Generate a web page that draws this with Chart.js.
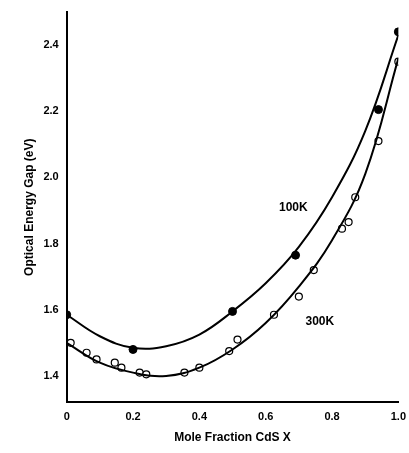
<!DOCTYPE html><html><head><script src="https://cdn.jsdelivr.net/npm/chart.js"></script>
<style>body{margin:0;background:#fff}#w{width:409px;height:453px}</style></head><body><div id="w"><canvas id="c"></canvas></div>
<script>
const x100=[0,0.2,0.5,0.69,0.94,1.0];
const y100=[1.585,1.48,1.595,1.765,2.205,2.44];
const x300=[0.012,0.06,0.09,0.145,0.165,0.22,0.24,0.355,0.40,0.49,0.515,0.625,0.70,0.745,0.83,0.85,0.87,0.94,1.0];
const y300=[1.50,1.47,1.45,1.44,1.425,1.41,1.405,1.41,1.425,1.475,1.51,1.585,1.64,1.72,1.845,1.865,1.94,2.11,2.35];
const cx=[0,0.1,0.2,0.3,0.4,0.5,0.6,0.7,0.8,0.9,1.0];
const c100=[1.585,1.52,1.485,1.49,1.525,1.595,1.68,1.79,1.94,2.14,2.43];
const c300=[1.50,1.44,1.41,1.40,1.425,1.48,1.56,1.67,1.81,2.01,2.36];
const xt=[0,0.2,0.4,0.6,0.8,1.0];
const yt=[1.4,1.6,1.8,2.0,2.2,2.4];
const pts=(a,b)=>a.map((v,i)=>({x:v,y:b[i]}));
const labels={id:'lb',afterDraw(ch){const c=ch.ctx,xs=ch.scales.x,ys=ch.scales.y;c.save();c.font='bold 12px Liberation Sans, Arial';c.fillStyle='#000';c.fillText('100K',xs.getPixelForValue(0.64),ys.getPixelForValue(1.9));c.fillText('300K',xs.getPixelForValue(0.72),ys.getPixelForValue(1.555));c.restore();}};
new Chart(document.getElementById('c'),{type:'scatter',data:{datasets:[
{data:pts(cx,c100),showLine:true,borderColor:'#000',borderWidth:2,pointRadius:0,tension:0.4},
{data:pts(cx,c300),showLine:true,borderColor:'#000',borderWidth:2,pointRadius:0,tension:0.4},
{data:pts(x100,y100),pointRadius:4,backgroundColor:'#000',borderColor:'#000'},
{data:pts(x300,y300),pointRadius:3.5,backgroundColor:'#fff',borderColor:'#000',borderWidth:1.2}]},
options:{animation:false,responsive:true,maintainAspectRatio:false,layout:{padding:{top:12,right:6,left:18,bottom:4}},
plugins:{legend:{display:false},tooltip:{enabled:false}},
scales:{x:{type:'linear',min:0,max:1.0,afterBuildTicks:s=>{s.ticks=xt.map(v=>({value:v}))},
ticks:{color:'#000',font:{family:'Liberation Sans',size:11,weight:'bold'},callback:v=>v===0?'0':v.toFixed(1)},
grid:{display:false,drawTicks:true,tickLength:5,color:'#000'},border:{color:'#000',width:2},
title:{display:true,text:'Mole Fraction CdS X',color:'#000',font:{family:'Liberation Sans',size:12,weight:'bold'}}},
y:{min:1.32,max:2.5,afterBuildTicks:s=>{s.ticks=yt.map(v=>({value:v}))},
ticks:{color:'#000',font:{family:'Liberation Sans',size:11,weight:'bold'},callback:v=>v.toFixed(1)},
grid:{display:false,tickLength:5,color:'#000'},border:{color:'#000',width:2},
title:{display:true,text:'Optical Energy Gap (eV)',color:'#000',font:{family:'Liberation Sans',size:12,weight:'bold'}}}}},
plugins:[labels]});
</script></body></html>
